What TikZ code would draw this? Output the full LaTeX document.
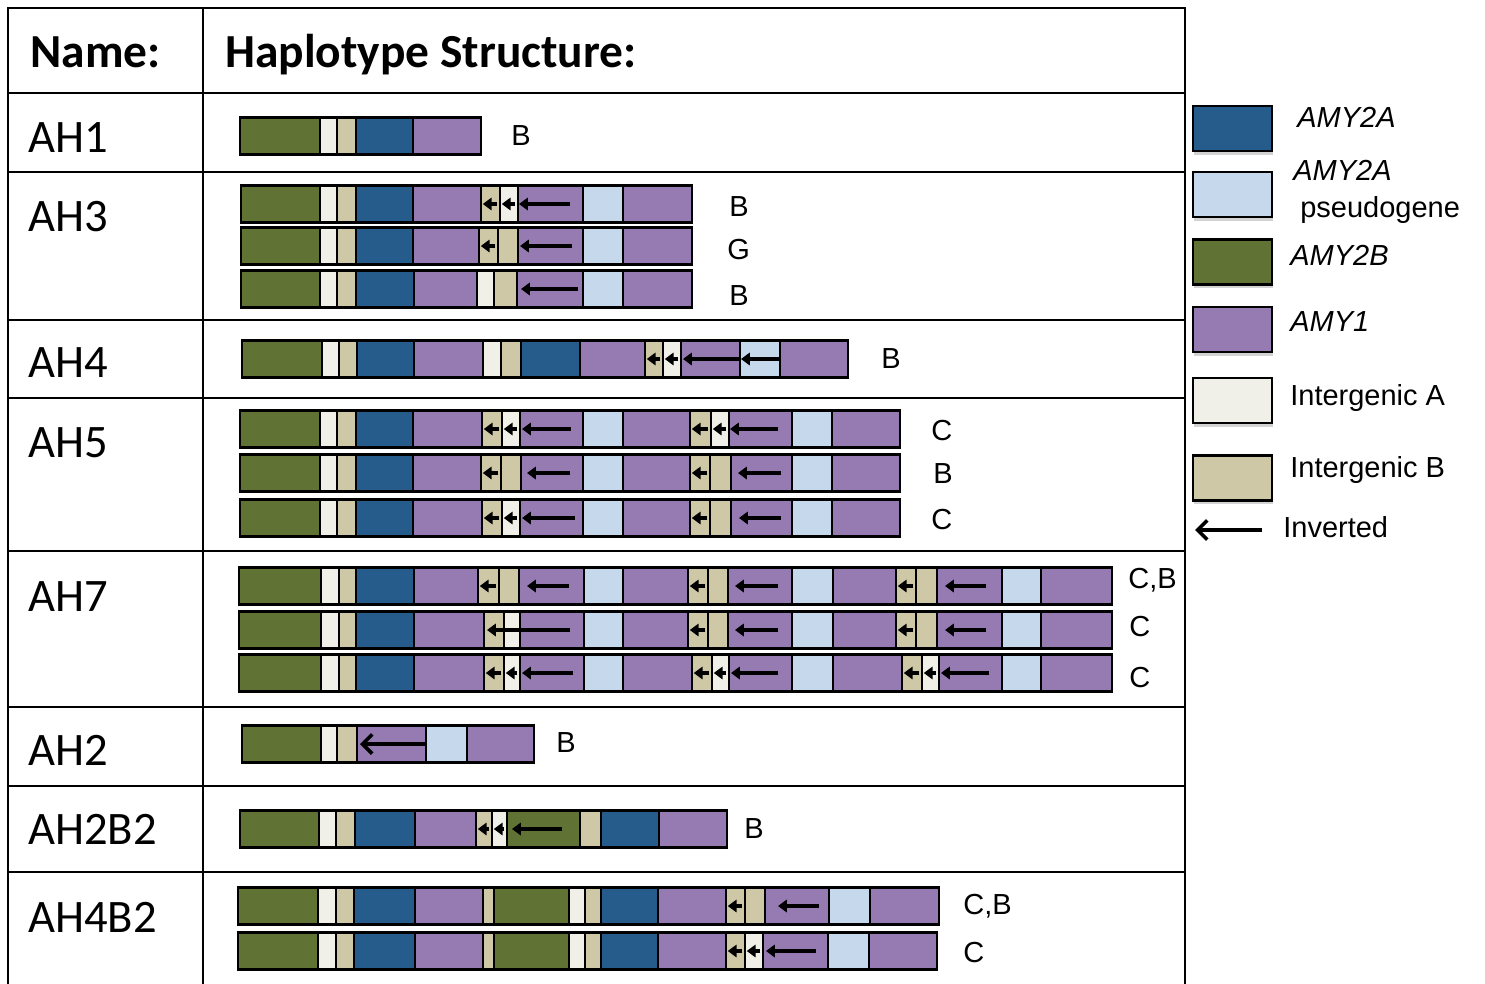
\documentclass[tikz,border=0pt]{standalone}
\usepackage{fontspec}
\setmainfont{Liberation Sans}
\newfontfamily\calfont{Carlito}
\usepackage{tikz}
\usetikzlibrary{arrows.meta,positioning,shadows}

\definecolor{hapg}{RGB}{96,114,52}   % AMY2B
\definecolor{hapd}{RGB}{38,92,140}   % AMY2A
\definecolor{haps}{RGB}{197,216,236} % AMY2A pseudogene
\definecolor{happ}{RGB}{149,123,178} % AMY1
\definecolor{hapa}{RGB}{240,240,232} % intergenic A
\definecolor{hapb}{RGB}{207,200,166} % intergenic B

\tikzset{
  seg/.style={draw=black, line width=1.2pt, fill=hap#1, inner sep=0pt, outer sep=0pt, minimum height=0.74cm},
  key/.style={seg=#1, line width=1.3pt, minimum width=1.58cm, minimum height=0.9cm,
    drop shadow={shadow xshift=0.8pt, shadow yshift=-2pt, opacity=0.35}},
  inv/.style={line width=2.1pt, -{Triangle[length=5pt,width=7pt]}},
  invbig/.style={line width=2.1pt, -{Straight Barb[length=5.5pt,width=11pt]}},
  rule/.style={line width=1.6pt},
  head/.style={font=\calfont\bfseries\fontsize{27}{32}\selectfont, anchor=base west, inner sep=0pt},
  hname/.style={font=\calfont\fontsize{26.5}{31}\selectfont, anchor=base west, inner sep=0pt},
  tag/.style={font=\fontsize{16.5}{19}\selectfont, anchor=base west, inner sep=0pt}
}

% one haplotype bar: name, x, y, list of type/width
\newcommand\haplo[4]{%
  \coordinate (#1-0) at (#2,#3);
  \foreach \t/\w [count=\i] in {#4}{%
    \pgfmathtruncatemacro\prev{\i-1}
    \node[seg=\t, minimum width=\w*0.02cm, right=0pt of #1-\prev] (#1-\i) {};
  }}
% inverted marks
\newcommand\flipin[1]{\draw[inv] ([xshift=-1.5pt]#1.east) -- ([xshift=1pt]#1.west);}
\newcommand\flipat[3]{\draw[inv] ([xshift=#3]#1.west) -- ([xshift=#2]#1.west);}

\begin{document}
\begin{tikzpicture}[x=0.02cm, y=-0.02cm]
\useasboundingbox (0,0) rectangle (1485,984);

% table
\draw[rule] (8,984) -- (8,8) -- (1185,8) -- (1185,984);
\draw[rule] (203,8) -- (203,984);
\foreach \y in {93,172,320,398,551,707,786,872}
  \draw[rule] (8,\y) -- (1185,\y);

\node[head] (h-name) at (30,67) {Name:};
\node[head] (h-struct) at (225,67) {Haplotype Structure:};

\node[hname] (n-ah1) at (28,152) {AH1};
\node[hname] (n-ah3) at (28,231) {AH3};
\node[hname] (n-ah4) at (28,377) {AH4};
\node[hname] (n-ah5) at (28,457) {AH5};
\node[hname] (n-ah7) at (28,611) {AH7};
\node[hname] (n-ah2) at (28,765) {AH2};
\node[hname] (n-ah2b2) at (28,844) {AH2B2};
\node[hname] (n-ah4b2) at (28,932) {AH4B2};

% AH1
\haplo{ah1}{240}{136}{g/80,a/17,b/19,d/57,p/68}
\node[tag] (ah1-tag) at (511,145) {B};

% AH3
\haplo{ah3a}{241}{204}{g/79,a/17,b/19,d/57,p/68,b/19,a/18,p/65,s/40,p/69}
\flipin{ah3a-6} \flipin{ah3a-7} \flipat{ah3a-8}{0.02cm}{1.04cm}
\haplo{ah3b}{241}{246}{g/79,a/17,b/19,d/57,p/66,b/19,b/20,p/65,s/40,p/69}
\flipin{ah3b-6} \flipat{ah3b-8}{0.04cm}{1.08cm}
\haplo{ah3c}{241}{289}{g/79,a/17,b/19,d/58,p/63,a/17,b/23,p/66,s/40,p/69}
\flipat{ah3c-8}{0.08cm}{1.22cm}
\node[tag] (ah3a-tag) at (729,216) {B};
\node[tag] (ah3b-tag) at (727,259) {G};
\node[tag] (ah3c-tag) at (729,305) {B};

% AH4
\haplo{ah4}{242}{359}{g/80,a/17,b/18,d/57,p/69,a/18,b/20,d/59,p/65,b/18,a/18,p/59,s/40,p/68}
\flipin{ah4-10} \flipin{ah4-11}
\flipat{ah4-12}{0.04cm}{1.18cm} \flipat{ah4-13}{0.02cm}{0.78cm}
\node[tag] (ah4-tag) at (881,368) {B};

% AH5
\haplo{ah5a}{240}{429}{g/80,a/17,b/19,d/57,p/69,b/20,a/18,p/63,s/40,p/67,b/21,a/18,p/63,s/40,p/68}
\flipin{ah5a-6} \flipin{ah5a-7} \flipat{ah5a-8}{0.04cm}{1.02cm}
\flipin{ah5a-11} \flipin{ah5a-12} \flipat{ah5a-13}{0.02cm}{0.98cm}
\haplo{ah5b}{240}{473}{g/80,a/17,b/19,d/57,p/68,b/20,b/20,p/62,s/40,p/67,b/20,b/21,p/61,s/40,p/68}
\flipin{ah5b-6} \flipat{ah5b-8}{0.12cm}{0.98cm}
\flipin{ah5b-11} \flipat{ah5b-13}{0.14cm}{1.0cm}
\haplo{ah5c}{240}{518}{g/80,a/17,b/19,d/57,p/69,b/20,a/18,p/63,s/40,p/67,b/20,b/21,p/61,s/40,p/68}
\flipin{ah5c-6} \flipin{ah5c-7} \flipat{ah5c-8}{0.04cm}{1.1cm}
\flipin{ah5c-11} \flipat{ah5c-13}{0.16cm}{1.0cm}
\node[tag] (ah5a-tag) at (931,440) {C};
\node[tag] (ah5b-tag) at (933,483) {B};
\node[tag] (ah5c-tag) at (931,529) {C};

% AH7
\haplo{ah7a}{239}{586}{g/82,a/18,b/17,d/58,p/64,b/21,b/20,p/65,s/39,p/65,b/20,b/20,p/64,s/41,p/63,b/20,b/21,p/65,s/39,p/71}
\flipin{ah7a-6} \flipat{ah7a-8}{0.16cm}{1.0cm}
\flipin{ah7a-11} \flipat{ah7a-13}{0.14cm}{1.0cm}
\flipin{ah7a-16} \flipat{ah7a-18}{0.16cm}{0.98cm}
\haplo{ah7b}{239}{630}{g/82,a/18,b/17,d/58,p/70,b/20,a/16,p/64,s/39,p/65,b/20,b/20,p/64,s/41,p/63,b/20,b/21,p/65,s/39,p/71}
\draw[inv] ([xshift=1.0cm]ah7b-8.west) -- ([xshift=0.06cm]ah7b-6.west);
\flipin{ah7b-11} \flipat{ah7b-13}{0.14cm}{1.0cm}
\flipin{ah7b-16} \flipat{ah7b-18}{0.16cm}{0.98cm}
\haplo{ah7c}{239}{673}{g/82,a/18,b/17,d/58,p/70,b/20,a/16,p/64,s/39,p/69,b/20,a/17,p/63,s/41,p/69,b/20,a/17,p/63,s/39,p/71}
\flipin{ah7c-6} \flipin{ah7c-7} \flipat{ah7c-8}{0.04cm}{1.06cm}
\flipin{ah7c-11} \flipin{ah7c-12} \flipat{ah7c-13}{0.04cm}{0.98cm}
\flipin{ah7c-16} \flipin{ah7c-17} \flipat{ah7c-18}{0.04cm}{1.0cm}
\node[tag] (ah7a-tag) at (1128,588) {C,B};
\node[tag] (ah7b-tag) at (1129,636) {C};
\node[tag] (ah7c-tag) at (1129,687) {C};

% AH2
\haplo{ah2}{242}{744}{g/79,a/16,b/20,p/69,s/41,p/67}
\draw[invbig] ([xshift=-0.02cm]ah2-4.east) -- ([xshift=0.06cm]ah2-4.west);
\node[tag] (ah2-tag) at (556,752) {B};

% AH2B2
\haplo{ah2b2}{240}{829}{g/79,a/17,b/19,d/60,p/61,b/16,a/15,g/73,b/21,d/58,p/68}
\flipin{ah2b2-6} \flipin{ah2b2-7} \flipat{ah2b2-8}{0.1cm}{1.1cm}
\node[tag] (ah2b2-tag) at (744,838) {B};

% AH4B2
\haplo{ah4b2a}{238}{906}{g/80,a/18,b/18,d/61,p/68,b/11,g/75,a/16,b/16,d/57,p/68,b/19,b/20,p/64,s/41,p/69}
\flipin{ah4b2a-12} \flipat{ah4b2a-14}{0.26cm}{1.08cm}
\haplo{ah4b2b}{238}{951}{g/80,a/18,b/18,d/61,p/68,b/11,g/75,a/16,b/16,d/57,p/68,b/19,a/18,p/65,s/41,p/68}
\flipin{ah4b2b-12} \flipin{ah4b2b-13} \flipat{ah4b2b-14}{0.06cm}{1.06cm}
\node[tag] (ah4b2a-tag) at (963,914) {C,B};
\node[tag] (ah4b2b-tag) at (963,962) {C};

% legend
\node[key=d] (key-d) at (1232.5,128.5) {};
\node[key=s] (key-s) at (1232.5,194.5) {};
\node[key=g] (key-g) at (1232.5,262) {};
\node[key=p] (key-p) at (1232.5,329.5) {};
\node[key=a] (key-a) at (1232.5,400.5) {};
\node[key=b] (key-b) at (1232.5,478) {};
\node[tag] (key-d-txt) at (1297,127) {\textit{AMY2A}};
\node[tag] (key-s-txt) at (1293,180) {\textit{AMY2A}};
\node[tag] (key-s-txt2) at (1300,217) {pseudogene};
\node[tag] (key-g-txt) at (1290,265) {\textit{AMY2B}};
\node[tag] (key-p-txt) at (1290,331) {\textit{AMY1}};
\node[tag] (key-a-txt) at (1290,405) {Intergenic A};
\node[tag] (key-b-txt) at (1290,477) {Intergenic B};
\node[tag] (key-inv-txt) at (1283,537) {Inverted};
\coordinate (inv-tail) at (1262,530);
\coordinate (inv-tip) at (1195,530);
\draw[invbig] (inv-tail) -- (inv-tip);
\end{tikzpicture}
\end{document}
